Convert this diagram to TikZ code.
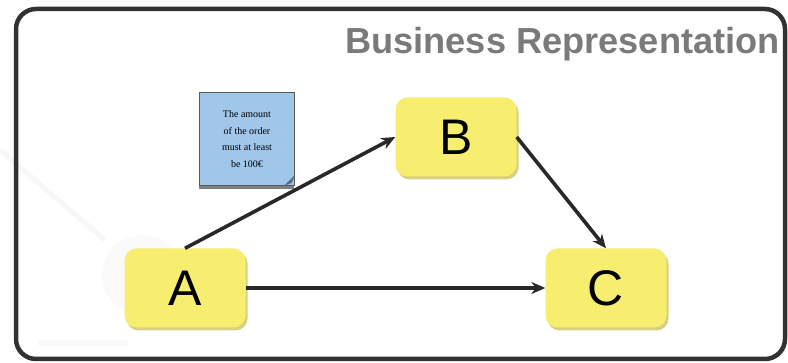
\documentclass[tikz,border=0pt]{standalone}
\usepackage{fontspec}
\setmainfont{Liberation Serif}
\setsansfont{Liberation Sans}
\usetikzlibrary{arrows.meta,shadows,positioning}

\definecolor{boxyellow}{RGB}{247,238,112}
\definecolor{boxshadow}{RGB}{216,208,128}
\definecolor{noteblue}{RGB}{160,198,234}
\definecolor{framegray}{RGB}{50,50,50}
\definecolor{titlegray}{RGB}{122,122,122}
\definecolor{flowgray}{RGB}{40,40,40}

\tikzset{
  task/.style={rectangle, rounded corners=12pt, fill=boxyellow,
    minimum width=121pt, minimum height=79pt,
    font=\sffamily\fontsize{50}{50}\selectfont,
    drop shadow={shadow xshift=2pt, shadow yshift=-3pt, fill=boxshadow, opacity=1}},
  note/.style={rectangle, fill=noteblue, draw=gray!70!black, line width=0.8pt,
    minimum width=95pt, minimum height=93pt, align=center, inner sep=2pt,
    font=\fontsize{10}{16.5}\selectfont,
    drop shadow={shadow xshift=-1pt, shadow yshift=-4pt, fill=gray, opacity=1}},
  flow/.style={-{Stealth[length=14pt,width=12pt]}, line width=3.6pt, draw=flowgray},
}

\begin{document}
\begin{tikzpicture}[x=1pt,y=-1pt]
  \useasboundingbox (0,0) rectangle (788,363);

  % faint watermark behind the frame
  \draw[gray!6, line width=5pt] (0,150) -- (105,240);
  \fill[gray!4] (142,275) circle (40pt);
  \draw[gray!5, line width=6pt, line cap=round] (40,343) -- (125,343);

  % frame and title
  \draw[framegray, line width=4.5pt, rounded corners=20pt] (16,9) rectangle (785,359);
  \node[anchor=north east, inner sep=0pt, text=titlegray,
    font=\sffamily\bfseries\fontsize{36.2}{36.2}\selectfont] (title) at (780,27)
    {Business Representation};

  % activities
  \node[task] (A) at (185,288) {A};
  \node[task] (B) at (456,137) {B};
  \node[task] (C) at (606,288) {C};

  % business rule
  \node[note] (rule) at (247,139) {The amount\\of the order\\must at least\\be 100€};
  \fill[noteblue!55!black] ([xshift=-11pt]rule.south east) -- ([yshift=11pt]rule.south east)
    -- ([xshift=-3pt,yshift=3pt]rule.south east) -- cycle;

  % flows
  \draw[flow] (A.north) -- (B.west);
  \draw[flow] (B.east) -- (C.north);
  \draw[flow] (A.east) -- (C.west);
\end{tikzpicture}
\end{document}
